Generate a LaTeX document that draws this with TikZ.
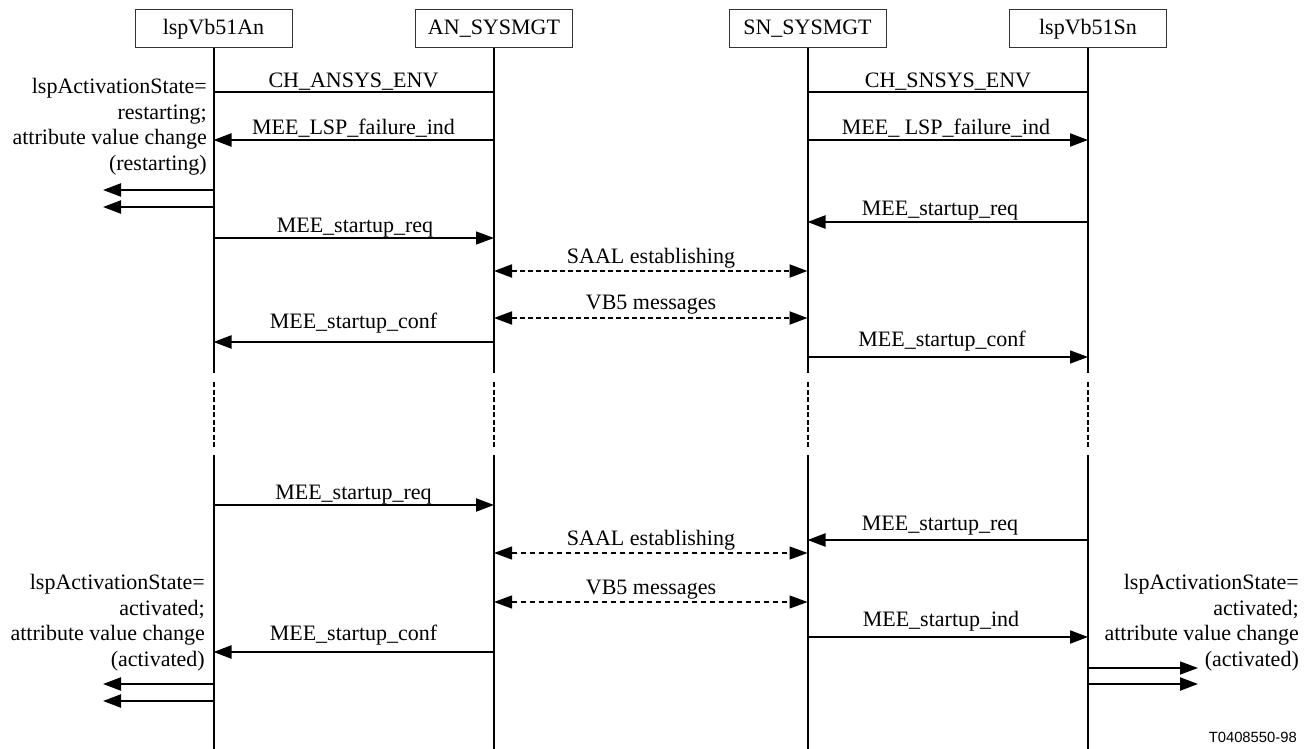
\documentclass[tikz,border=0pt]{standalone}
\usepackage{fontspec}
\setmainfont{Liberation Serif}
\newfontfamily\labelsans{Liberation Sans}
\usetikzlibrary{arrows.meta,calc}
\begin{document}
\begin{tikzpicture}[x=1pt,y=-1pt,
  every node/.style={font=\fontsize{22}{25.5}\selectfont},
  box/.style={draw=black!80, line width=1pt, minimum width=157pt, minimum height=38pt, inner sep=0pt},
  life/.style={line width=2pt},
  lifedash/.style={line width=2pt, dash pattern=on 5pt off 2.5pt},
  msg/.style={line width=2.2pt},
  thinmsg/.style={line width=1.3pt},
  tipend/.style={-{Triangle[length=18pt,width=13pt]}},
  tipboth/.style={{Triangle[length=18pt,width=13pt]}-{Triangle[length=18pt,width=13pt]}},
  dmsg/.style={line width=2pt, dash pattern=on 5pt off 3pt},
  dthin/.style={line width=1.1pt, dash pattern=on 5pt off 4pt},
  lbl/.style={inner sep=0pt, anchor=base},
  statetxt/.style={inner sep=0pt, align=right, anchor=east}
]
\useasboundingbox (0,0) rectangle (1314,749);

% participants
\node[box] (An)  at (213.5,29) {lspVb51An};
\node[box] (ANs) at (494,29)   {AN\_SYSMGT};
\node[box] (SNs) at (807.5,29) {SN\_SYSMGT};
\node[box] (Sn)  at (1088,29)  {lspVb51Sn};

% lifeline break coordinates
\coordinate (b1) at (0,373);
\coordinate (b2) at (0,382);
\coordinate (b3) at (0,448);
\coordinate (b4) at (0,455);
\coordinate (bend) at (0,749);

\foreach \p in {An,ANs,SNs,Sn}{
  \draw[life] (\p.south) -- (\p |- b1);
  \draw[lifedash] (\p |- b2) -- (\p |- b3);
  \draw[life] (\p |- b4) -- (\p |- bend);
}

% row coordinates
\coordinate (r1) at (0,92);
\coordinate (r2) at (0,140);
\coordinate (L1) at (103,190);
\coordinate (L2) at (103,207);
\coordinate (r3) at (0,238);
\coordinate (r4) at (0,222);
\coordinate (r5) at (0,271);
\coordinate (r6) at (0,318);
\coordinate (r7) at (0,342);
\coordinate (r8) at (0,357);
\coordinate (r9) at (0,505);
\coordinate (r10) at (0,540);
\coordinate (r11) at (0,553);
\coordinate (r12) at (0,602);
\coordinate (r13) at (0,652);
\coordinate (r14) at (0,637);
\coordinate (L3) at (103,684);
\coordinate (L4) at (103,701);
\coordinate (R1) at (1198,668);
\coordinate (R2) at (1198,684);

% upper part
\draw[msg] (An |- r1) -- (ANs |- r1);
\node[lbl] (t1) at (353.5,88) {CH\_ANSYS\_ENV};
\draw[msg] (SNs |- r1) -- (Sn |- r1);
\node[lbl] (t2) at (948,88) {CH\_SNSYS\_ENV};

\draw[msg,tipend] (ANs |- r2) -- (An |- r2);
\node[lbl] (t3) at (353.5,135) {MEE\_LSP\_failure\_ind};
\draw[msg,tipend] (SNs |- r2) -- (Sn |- r2);
\node[lbl] (t4) at (946,135) {MEE\_ LSP\_failure\_ind};

\draw[msg,tipend] (An |- L1) -- (L1);
\draw[msg,tipend] (An |- L2) -- (L2);

\draw[thinmsg,tipend] (An |- r3) -- (ANs |- r3);
\node[lbl] (t5) at (355,232) {MEE\_startup\_req};
\draw[msg,tipend] (Sn |- r4) -- (SNs |- r4);
\node[lbl] (t6) at (940,215) {MEE\_startup\_req};

\draw[dmsg,tipboth] (ANs |- r5) -- (SNs |- r5);
\node[lbl] (t7) at (651,263) {SAAL establishing};
\draw[dmsg,tipboth] (ANs |- r6) -- (SNs |- r6);
\node[lbl] (t8) at (651,309) {VB5 messages};

\draw[msg,tipend] (ANs |- r7) -- (An |- r7);
\node[lbl] (t9) at (353.5,328) {MEE\_startup\_conf};
\draw[thinmsg,tipend] (SNs |- r8) -- (Sn |- r8);
\node[lbl] (t10) at (942,346) {MEE\_startup\_conf};

\node[statetxt] (s1) at (207,126.5) {lspActivationState=\\restarting;\\attribute value change\\(restarting)};

% lower part
\draw[msg,tipend] (An |- r9) -- (ANs |- r9);
\node[lbl] (t11) at (353.5,499) {MEE\_startup\_req};
\draw[msg,tipend] (Sn |- r10) -- (SNs |- r10);
\node[lbl] (t12) at (940,530) {MEE\_startup\_req};

\draw[dthin,tipboth] (ANs |- r11) -- (SNs |- r11);
\node[lbl] (t13) at (651,545) {SAAL establishing};
\draw[dthin,tipboth] (ANs |- r12) -- (SNs |- r12);
\node[lbl] (t14) at (651,594) {VB5 messages};

\draw[msg,tipend] (ANs |- r13) -- (An |- r13);
\node[lbl] (t15) at (353.5,640) {MEE\_startup\_conf};
\draw[msg,tipend] (SNs |- r14) -- (Sn |- r14);
\node[lbl] (t16) at (941,626) {MEE\_startup\_ind};

\draw[msg,tipend] (An |- L3) -- (L3);
\draw[msg,tipend] (An |- L4) -- (L4);
\draw[thinmsg,tipend] (Sn |- R1) -- (R1);
\draw[msg,tipend] (Sn |- R2) -- (R2);

\node[statetxt] (s2) at (205,622.5) {lspActivationState=\\activated;\\attribute value change\\(activated)};
\node[statetxt] (s3) at (1299,622.5) {lspActivationState=\\activated;\\attribute value change\\(activated)};

\node[inner sep=0pt, anchor=base east, font=\labelsans\fontsize{14.8}{17}\selectfont] (fig) at (1297,742) {T0408550-98};
\end{tikzpicture}
\end{document}
